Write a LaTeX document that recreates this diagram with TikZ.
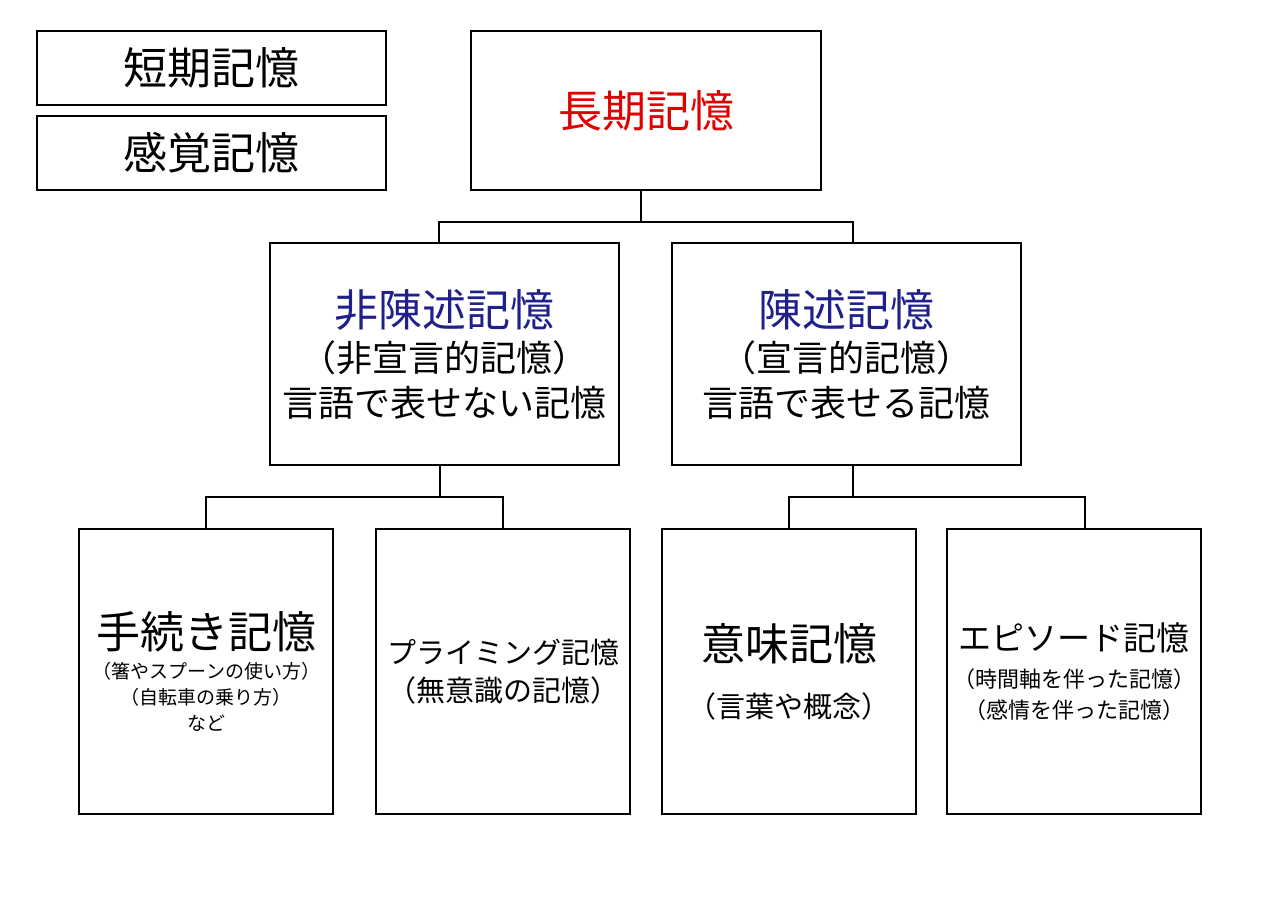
\documentclass[tikz,border=0pt]{standalone}
\usepackage{fontspec}
\setmainfont{Noto Sans CJK JP}[Kerning=Off]
\usepackage{tikz}
\definecolor{navy}{RGB}{32,32,140}
\definecolor{headred}{RGB}{225,0,0}
\newcommand{\fs}[2]{\fontsize{#1}{#2}\selectfont}

\begin{document}
\begin{tikzpicture}[x=0.5pt, y=-0.5pt, line width=0.8pt,
  box/.style={draw, rectangle, line width=0.8pt, align=center, inner sep=0pt}]
  \useasboundingbox (0,0) rectangle (1265,900);
  \node [box, minimum width=174.5pt, minimum height=37pt, font=\fs{22}{26}] (short) at (211.5, 68) {短期記憶};
  \node [box, minimum width=174.5pt, minimum height=37pt, font=\fs{22}{26}] (sense) at (211.5, 153) {感覚記憶};
  \node [box, minimum width=175pt, minimum height=79.5pt, font=\fs{22}{26}] (long) at (646, 110.5) {\textcolor{headred}{長期記憶}};
  \node [box, minimum width=174.5pt, minimum height=111pt, font=\fs{18}{22.5}] (nondecl) at (444.5, 354)
    {\fs{22}{22.5}\textcolor{navy}{非陳述記憶}\\\fs{18}{22.5}（非宣言的記憶）\\言語で表せない記憶};
  \node [box, minimum width=174.5pt, minimum height=111pt, font=\fs{18}{22.5}] (decl) at (846.5, 354)
    {\fs{22}{22.5}\textcolor{navy}{陳述記憶}\\\fs{18}{22.5}（宣言的記憶）\\言語で表せる記憶};
  \node [box, minimum width=127pt, minimum height=142.5pt, font=\fs{9.5}{13}] (proc) at (206, 671.5)
    {\fs{22}{13}手続き記憶\\[2pt]\fs{9.5}{13}（箸やスプーンの使い方）\\（自転車の乗り方）\\など};
  \node [box, minimum width=127pt, minimum height=142.5pt, font=\fs{14.5}{19}] (prime) at (503, 671.5)
    {プライミング記憶\\（無意識の記憶）};
  \node [box, minimum width=127pt, minimum height=142.5pt, font=\fs{14.5}{28.5}] (sem) at (789, 671.5)
    {\fs{22}{28.5}意味記憶\\\fs{14.5}{28.5}（言葉や概念）};
  \node [box, minimum width=127pt, minimum height=142.5pt, font=\fs{11}{15.5}] (epi) at (1074, 671.5)
    {\fs{16.5}{15.5}エピソード記憶\\[3pt]\fs{11}{15.5}（時間軸を伴った記憶）\\（感情を伴った記憶）};
  % joints of the tree lines
  \coordinate (t0) at (641, 222);
  \coordinate (t1) at (439, 222);
  \coordinate (t2) at (853, 222);
  \coordinate (m1) at (440, 497);
  \coordinate (m2) at (853, 497);
  \coordinate (k1) at (206, 497);
  \coordinate (k2) at (503, 497);
  \coordinate (k3) at (789, 497);
  \coordinate (k4) at (1085, 497);
  \draw (long.south -| t0) -- (t0);
  \draw (nondecl.north -| t1) -- (t1) -- (t2) -- (decl.north -| t2);
  \draw (nondecl.south -| m1) -- (m1);
  \draw (proc.north -| k1) -- (k1) -- (k2) -- (prime.north -| k2);
  \draw (decl.south -| m2) -- (m2);
  \draw (sem.north -| k3) -- (k3) -- (k4) -- (epi.north -| k4);
\end{tikzpicture}
\end{document}
